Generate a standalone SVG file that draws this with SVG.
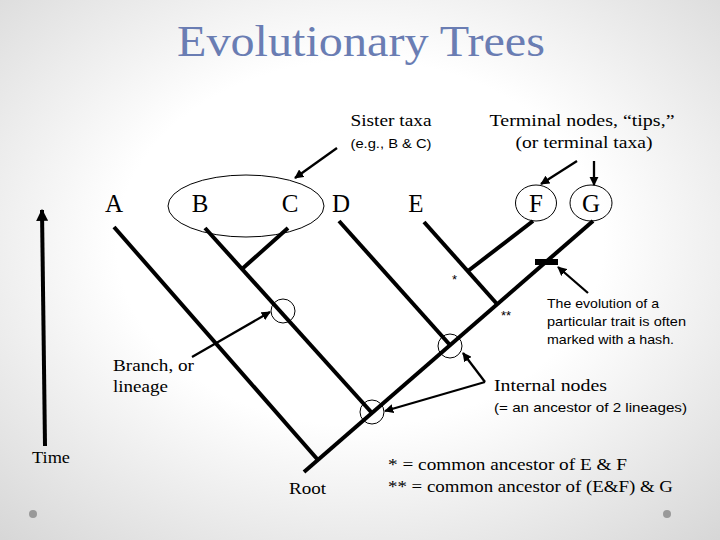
<svg xmlns="http://www.w3.org/2000/svg" width="720" height="540" viewBox="0 0 720 540">
<defs>
<radialGradient id="bg" cx="50%" cy="45%" r="75%">
<stop offset="0.45" stop-color="#ffffff"/>
<stop offset="1" stop-color="#d6d6d6"/>
</radialGradient>
<marker id="ah" viewBox="0 0 10 10" refX="9" refY="5" markerWidth="4" markerHeight="4" orient="auto" markerUnits="strokeWidth">
<path d="M0,0 L10,5 L0,10 z" fill="#000"/>
</marker>
<marker id="ahT" viewBox="0 0 10 10" refX="9" refY="5" markerWidth="3" markerHeight="3" orient="auto" markerUnits="strokeWidth">
<path d="M0,0 L10,5 L0,10 z" fill="#000"/>
</marker>
</defs>
<style>
.br{stroke:#000;stroke-width:4;fill:none;stroke-linecap:butt}
.ar{stroke:#000;stroke-width:2.3;fill:none;marker-end:url(#ah)}
.ring{stroke:#000;stroke-width:1;fill:none}
.tx{font-family:"Liberation Serif","Times New Roman",serif;fill:#000}
.sm{font-family:"Liberation Sans",Arial,sans-serif;fill:#000;font-size:13px}
.lab{font-family:"Liberation Serif","Times New Roman",serif;fill:#000;font-size:25px;text-anchor:middle}
</style>
<rect width="720" height="540" fill="url(#bg)"/>
<text x="361" y="56" font-family="'Liberation Serif','Times New Roman',serif" font-size="45" fill="#6a7db3" text-anchor="middle" textLength="368" lengthAdjust="spacingAndGlyphs">Evolutionary Trees</text>

<g id="connectors">
<line class="br" x1="304" y1="472" x2="593" y2="221"/>
<line class="br" x1="114" y1="227" x2="318" y2="460"/>
<line class="br" x1="205" y1="228" x2="372" y2="413"/>
<line class="br" x1="288" y1="228" x2="242" y2="269"/>
<line class="br" x1="339" y1="221" x2="450" y2="345"/>
<line class="br" x1="424" y1="222" x2="497" y2="304"/>
<line class="br" x1="468" y1="271" x2="533" y2="221"/>
<rect x="535" y="259" width="23" height="6" fill="#000"/>
<line stroke="#000" stroke-width="4" x1="45" y1="446" x2="42" y2="210" marker-end="url(#ahT)"/>
<line class="ar" x1="337" y1="148" x2="295" y2="178"/>
<line class="ar" x1="577" y1="161" x2="541" y2="184"/>
<line class="ar" x1="594" y1="161" x2="594" y2="185"/>
<line class="ar" x1="192" y1="357" x2="270" y2="312"/>
<line class="ar" x1="485" y1="382" x2="385" y2="411"/>
<line class="ar" x1="485" y1="382" x2="463" y2="353"/>
<line class="ar" x1="588" y1="293" x2="558" y2="267"/>
</g>

<g id="sister-ellipse"><ellipse class="ring" cx="246" cy="206" rx="78" ry="31"/></g>
<g id="node-A"><text class="lab" x="114" y="212">A</text></g>
<g id="node-B"><text class="lab" x="200" y="212">B</text></g>
<g id="node-C"><text class="lab" x="290" y="212">C</text></g>
<g id="node-D"><text class="lab" x="341" y="212">D</text></g>
<g id="node-E"><text class="lab" x="416" y="212">E</text></g>
<g id="node-F"><ellipse class="ring" cx="536" cy="203" rx="20.5" ry="18"/><text class="lab" x="536" y="212">F</text></g>
<g id="node-G"><ellipse class="ring" cx="591" cy="203" rx="21" ry="18"/><text class="lab" x="591" y="212">G</text></g>
<g id="internal-1"><circle class="ring" cx="283" cy="311" r="12"/></g>
<g id="internal-2"><circle class="ring" cx="450" cy="346" r="12"/></g>
<g id="internal-3"><circle class="ring" cx="372" cy="412" r="12"/></g>

<g id="label-sister">
<text class="tx" x="391" y="126" font-size="17" text-anchor="middle" textLength="81" lengthAdjust="spacingAndGlyphs">Sister taxa</text>
<text class="sm" x="391" y="148" text-anchor="middle" textLength="81" lengthAdjust="spacingAndGlyphs">(e.g., B &amp; C)</text>
</g>
<g id="label-terminal">
<text class="tx" x="582" y="126" font-size="17" text-anchor="middle" textLength="185" lengthAdjust="spacingAndGlyphs">Terminal nodes, “tips,”</text>
<text class="tx" x="584" y="148" font-size="17" text-anchor="middle" textLength="137" lengthAdjust="spacingAndGlyphs">(or terminal taxa)</text>
</g>
<g id="label-stars">
<text class="sm" x="452" y="284">*</text>
<text class="sm" x="501" y="320">**</text>
</g>
<g id="label-hash">
<text class="sm" x="547" y="308" textLength="112" lengthAdjust="spacingAndGlyphs">The evolution of a</text>
<text class="sm" x="547" y="326" textLength="139" lengthAdjust="spacingAndGlyphs">particular trait is often</text>
<text class="sm" x="547" y="344" textLength="127" lengthAdjust="spacingAndGlyphs">marked with a hash.</text>
</g>
<g id="label-branch">
<text class="tx" x="113" y="371" font-size="17" textLength="81" lengthAdjust="spacingAndGlyphs">Branch, or</text>
<text class="tx" x="113" y="392" font-size="17" textLength="55" lengthAdjust="spacingAndGlyphs">lineage</text>
</g>
<g id="label-internal">
<text class="tx" x="494" y="391" font-size="17" textLength="113" lengthAdjust="spacingAndGlyphs">Internal nodes</text>
<text class="sm" x="494" y="412" textLength="193" lengthAdjust="spacingAndGlyphs">(= an ancestor of 2 lineages)</text>
</g>
<g id="label-time"><text class="tx" x="32" y="463" font-size="17" textLength="38" lengthAdjust="spacingAndGlyphs">Time</text></g>
<g id="label-root"><text class="tx" x="289" y="494" font-size="17" textLength="37" lengthAdjust="spacingAndGlyphs">Root</text></g>
<g id="legend">
<text class="tx" x="388" y="470" font-size="17" textLength="239" lengthAdjust="spacingAndGlyphs">* = common ancestor of E &amp; F</text>
<text class="tx" x="388" y="492" font-size="17" textLength="285" lengthAdjust="spacingAndGlyphs">** = common ancestor of (E&amp;F) &amp; G</text>
</g>
<circle cx="33" cy="514" r="4" fill="#999"/>
<circle cx="667" cy="514" r="4" fill="#999"/>
</svg>
